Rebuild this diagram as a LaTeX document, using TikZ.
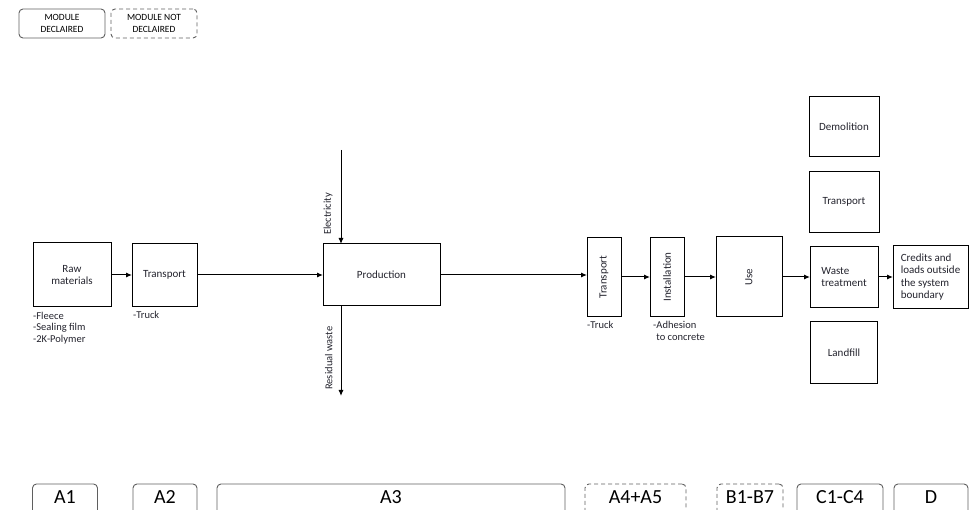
\documentclass[tikz,border=0pt]{standalone}
\usepackage{fontspec}
\setmainfont{Carlito}
\usepackage{graphicx}
\usetikzlibrary{positioning,arrows.meta}
\definecolor{framegray}{RGB}{95,95,95}
\definecolor{inkgray}{RGB}{35,35,45}
\tikzset{
  box/.style    ={draw=black, line width=1pt, align=center, text=inkgray, outer sep=0pt,
                  font=\fontsize{11}{12.5}\selectfont, inner sep=2pt},
  lbl/.style    ={align=left, text=inkgray, font=\fontsize{10.5}{11.5}\selectfont, inner sep=0pt},
  ar/.style     ={-{Latex[length=6pt,width=5pt]}, draw=black, line width=1pt},
  legbox/.style ={draw=framegray, rounded corners=4pt, line width=0.9pt, align=center,
                  font=\fontsize{9.5}{12.5}\selectfont, minimum width=86pt, minimum height=29pt, inner sep=0pt},
  phase/.style  ={draw=framegray, rounded corners=4pt, line width=0.9pt, anchor=base,
                  font=\fontsize{20}{22}\selectfont, text height=19pt, text depth=26pt, inner sep=0pt},
  nodecl/.style ={dash pattern=on 4pt off 3pt},
}
\begin{document}
\begin{tikzpicture}[x=1pt,y=-1pt]
\useasboundingbox (0,0) rectangle (977,510);
\clip (0,0) rectangle (977,510);
% legend
\node[legbox] (decl) at (62,23.5) {MODULE\\DECLAIRED};
\node[legbox,nodecl] (ndecl) at (154,23.5) {MODULE NOT\\DECLAIRED};
% main chain
\node[box,minimum width=78pt,minimum height=64pt] (raw) at (72,275) {Raw\\materials};
\node[box,right=21pt of raw,minimum width=65pt,minimum height=63pt] (trA) {Transport};
\node[box,right=126pt of trA,minimum width=117pt,minimum height=62pt] (prod) {Production};
\node[box,right=147pt of prod,minimum width=34pt,minimum height=79pt,yshift=-2pt] (trB) {\rotatebox{90}{Transport}};
\node[box,right=29pt of trB,minimum width=34pt,minimum height=79pt] (inst) {\rotatebox{90}{Installation}};
\node[box,right=32pt of inst,minimum width=66pt,minimum height=80pt] (use) {\rotatebox{90}{Use}};
\node[box,right=28pt of use,minimum width=68pt,minimum height=61pt,align=left] (waste) {Waste\\treatment};
\node[box,right=15pt of waste,minimum width=75pt,minimum height=63pt,align=left] (cred) {Credits and\\loads outside\\the system\\boundary};
% end-of-life column
\node[box,above=14pt of waste,minimum width=70pt,minimum height=61pt] (trC) {Transport};
\node[box,above=15pt of trC,minimum width=70pt,minimum height=60pt] (demo) {Demolition};
\node[box,below=14pt of waste,minimum width=67pt,minimum height=62pt] (land) {Landfill};
% notes below boxes
\node[lbl,anchor=north west] (rawnote) at ([yshift=-5pt]raw.south west) {-Fleece\\-Sealing film\\-2K-Polymer};
\node[lbl,anchor=north west] (trAnote) at ([xshift=1pt,yshift=-5pt]trA.south west) {-Truck};
\node[lbl,anchor=north west] (trBnote) at ([yshift=-5pt]trB.south west) {-Truck};
\node[lbl,anchor=north west] (instnote) at ([xshift=3pt,yshift=-5pt]inst.south west) {-Adhesion\\\hphantom{-}to concrete};
% flows
\draw[ar] (raw) -- (trA);
\draw[ar] (trA) -- (prod);
\draw[ar] (prod.east) -- (prod.east -| trB.west);
\draw[ar] (trB) -- (inst);
\draw[ar] (inst) -- (use);
\draw[ar] (use) -- (use -| waste.west);
\draw[ar] (waste) -- (waste -| cred.west);
\coordinate (elecsrc) at (341,150);
\coordinate (wastesink) at (341,396);
\draw[ar] (elecsrc) -- node[lbl,pos=0.68,xshift=-8pt,rotate=90,anchor=south] (eleclbl) {Electricity} (elecsrc |- prod.north);
\draw[ar] (prod.south -| wastesink) -- node[lbl,pos=0.58,xshift=-8pt,rotate=90,anchor=south] (reslbl) {Residual waste} (wastesink);
% life cycle stages
\node[phase,minimum width=65pt] (sA1) at (65,503) {A1};
\node[phase,minimum width=64pt] (sA2) at (165,503) {A2};
\node[phase,minimum width=348pt] (sA3) at (391,503) {A3};
\node[phase,nodecl,minimum width=101pt] (sA4) at (635.5,503) {A4+A5};
\node[phase,nodecl,minimum width=66pt] (sB) at (750,503) {B1-B7};
\node[phase,minimum width=86pt] (sC) at (840,503) {C1-C4};
\node[phase,minimum width=74pt] (sD) at (931,503) {D};
\end{tikzpicture}
\end{document}
